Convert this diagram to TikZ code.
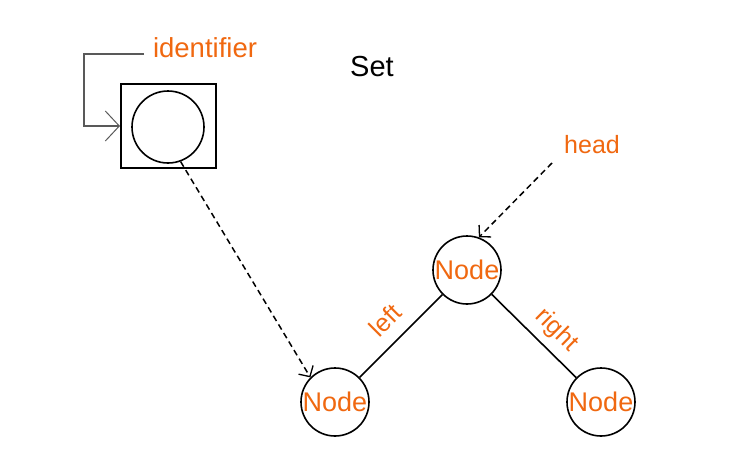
\documentclass[tikz,border=0pt]{standalone}
\usepackage{fontspec}
\setmainfont{Liberation Sans}
\usepackage{xcolor}
\usetikzlibrary{arrows.meta, positioning, calc}
\definecolor{setorange}{RGB}{240,104,16}

\begin{document}
\begin{tikzpicture}[x=1pt,y=-1pt,
    treenode/.style={circle, draw, line width=1.6pt, minimum size=68pt, inner sep=0pt, text=setorange, font=\fontsize{27}{31}\selectfont},
    lbl/.style={text=setorange, font=\fontsize{25}{30}\selectfont},
    ptr/.style={line width=1.5pt, dash pattern=on 6pt off 4pt, -{Straight Barb[length=8pt,width=17pt,line width=1.3pt]}}]
          \useasboundingbox (0,0) rectangle (733,472);

          \node[draw, line width=2pt, minimum width=95pt, minimum height=84pt, inner sep=0pt] (box) at (168.5,126) {};
          \node[circle, draw, line width=1.6pt, minimum size=72pt, inner sep=0pt] (ident) at (168,127) {};
          \node[lbl, font=\fontsize{27.5}{32}\selectfont] (idlabel) at (205,48) {identifier};
          \node[font=\fontsize{29}{34}\selectfont] (title) at (372,67) {Set};
          \node[lbl] (headlabel) at (592,145) {head};

          \node[treenode] (root) at (467,270) {Node};
          \node[treenode] (leftnode) at (335,402) {Node};
          \node[treenode] (rightnode) at (601,402) {Node};

          \coordinate (idtail) at (144,54);
          \coordinate (headtail) at (552,163);

          \draw[gray!70!black, line width=1.3pt, -{Straight Barb[length=14pt,width=30pt,line width=1pt]}] (idtail) -- (84,54) |- (box.west);
          \draw[ptr] (ident.-70) -- (leftnode.135);
          \draw[ptr] (headtail) -- (root.70);

          \draw[line width=1.6pt] (root) -- node[lbl, above=9pt, sloped] {left} (leftnode);
          \draw[line width=1.6pt] (root) -- node[lbl, pos=0.6, above=4pt, sloped] {right} (rightnode);
        \end{tikzpicture}
\end{document}
